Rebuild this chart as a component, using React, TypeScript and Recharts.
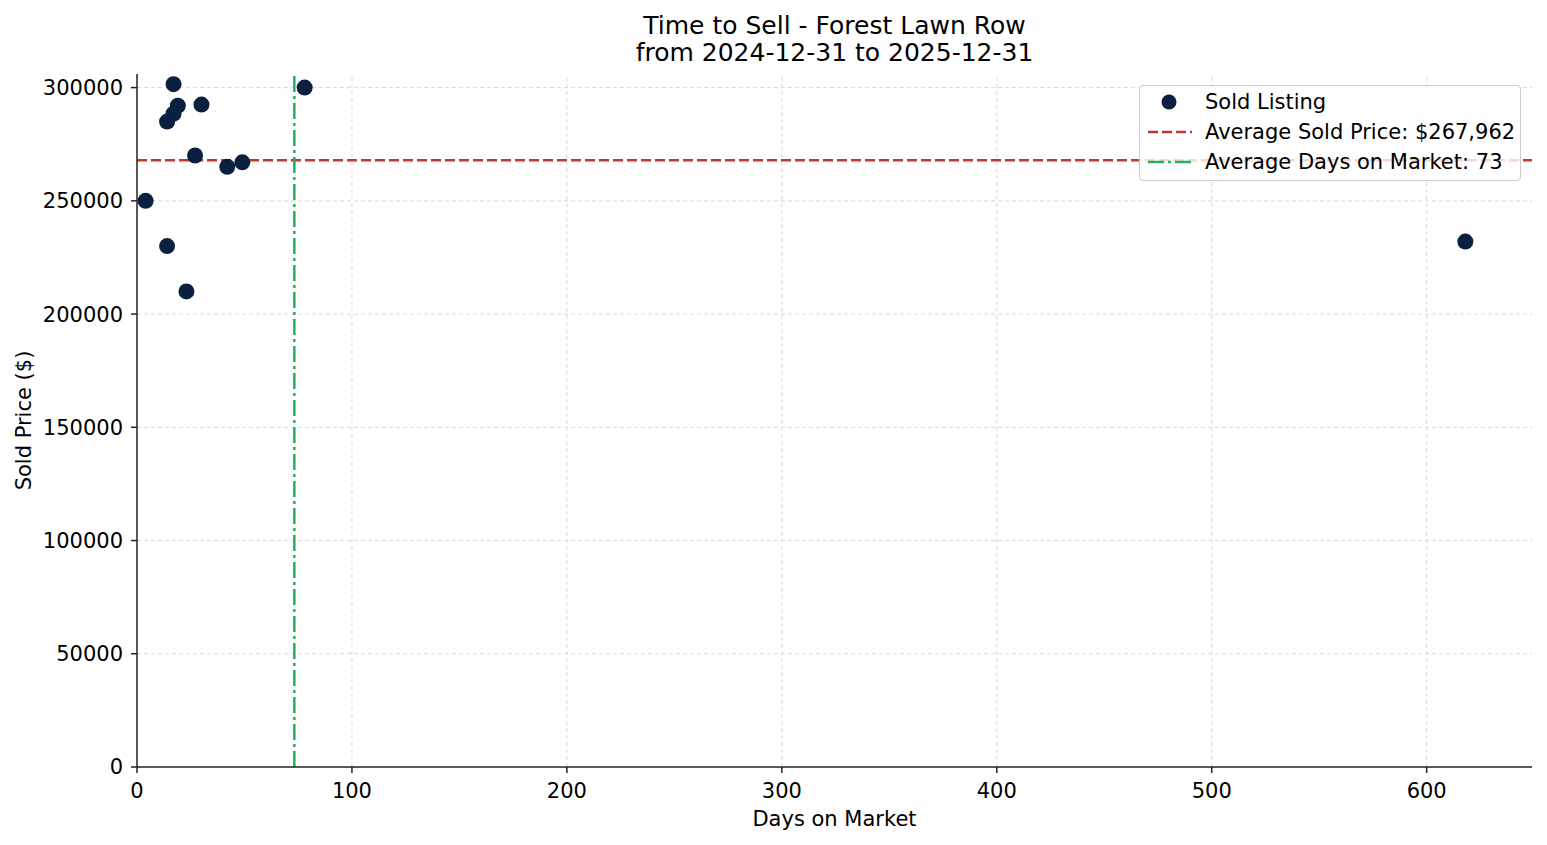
import React from "react";
import {
  ScatterChart, Scatter, XAxis, YAxis, ReferenceLine, Label,
} from "recharts";

// sold listings: days on market and sold price
const daysOnMarket = [4, 17, 19, 17, 14, 30, 27, 42, 49, 14, 23, 78, 618];
const soldPrices = [250000, 301500, 292000, 288500, 285000, 292500, 270000, 265000, 267000, 230000, 210000, 300000, 232000];

const xTicks = [0, 100, 200, 300, 400, 500, 600];
const yTicks = [0, 50000, 100000, 150000, 200000, 250000, 300000];

const AVG_PRICE = 267962;
const AVG_DAYS = 73.2;

const TITLE = "Time to Sell - Forest Lawn Row";
const SUBTITLE = "from 2024-12-31 to 2025-12-31";

const DOT = "#0b1f3f";
const RED = "#c0392b";
const GREEN = "#27ae60";
const GRID = "#d9d9d9";
const FONT = "DejaVu Sans";

const data = daysOnMarket.map((d, i) => ({ days: d, price: soldPrices[i] }));

const tickStyle = { fontSize: 21, fill: "#000", fontFamily: FONT };

export default function App() {
  return (
    <div style={{
      position: "absolute", top: 0, left: 0, width: 1547, height: 845,
      background: "#fff", fontFamily: FONT,
    }}>
      <div style={{
        position: "absolute", top: 12, left: 137, width: 1395, textAlign: "center",
        fontSize: 25, lineHeight: "27px", color: "#000",
      }}>
        <div>{TITLE}</div>
        <div>{SUBTITLE}</div>
      </div>

      <ScatterChart width={1547} height={845} margin={{ top: 74, right: 15, bottom: 0, left: 0 }}>
        {/* grid drawn at the tick values only, like matplotlib */}
        {xTicks.filter((t) => t > 0).map((t) => (
          <ReferenceLine key={`gx${t}`} x={t} stroke={GRID} strokeDasharray="4 3" strokeWidth={1} />
        ))}
        {yTicks.filter((t) => t > 0).map((t) => (
          <ReferenceLine key={`gy${t}`} y={t} stroke={GRID} strokeDasharray="4 3" strokeWidth={1} />
        ))}
        <XAxis
          type="number" dataKey="days" domain={[0, 649]} ticks={xTicks}
          allowDataOverflow height={78}
          tick={tickStyle} tickSize={6} tickMargin={10}
          axisLine={{ stroke: "#222", strokeWidth: 1.5 }} tickLine={{ stroke: "#222", strokeWidth: 1.5 }}
        >
          <Label
            content={({ viewBox }: any) => (
              <text x={viewBox.x + viewBox.width / 2} y={viewBox.y + 52} textAnchor="middle"
                dominantBaseline="central" fontSize={21} fontFamily={FONT} fill="#000">
                Days on Market
              </text>
            )}
          />
        </XAxis>
        <YAxis
          type="number" dataKey="price" domain={[0, 306000]} ticks={yTicks}
          allowDataOverflow width={137}
          tick={tickStyle} tickSize={6} tickMargin={8}
          axisLine={{ stroke: "#222", strokeWidth: 1.5 }} tickLine={{ stroke: "#222", strokeWidth: 1.5 }}
        >
          <Label
            content={({ viewBox }: any) => {
              const cx = viewBox.x + 24;
              const cy = viewBox.y + viewBox.height / 2;
              return (
                <text x={cx} y={cy} textAnchor="middle" dominantBaseline="central"
                  transform={`rotate(-90 ${cx} ${cy})`} fontSize={21} fontFamily={FONT} fill="#000">
                  Sold Price ($)
                </text>
              );
            }}
          />
        </YAxis>
        <Scatter
          data={data} fill={DOT} isAnimationActive={false}
          shape={(p: any) => <circle cx={p.cx} cy={p.cy} r={8} fill={DOT} />}
        />
        <ReferenceLine y={AVG_PRICE} stroke={RED} strokeWidth={2.5} strokeDasharray="10 4" />
        <ReferenceLine x={AVG_DAYS} stroke={GREEN} strokeWidth={2.5} strokeDasharray="16 4 3 4" />
      </ScatterChart>

      <div style={{
        position: "absolute", left: 1139, top: 85, width: 382, height: 96, boxSizing: "border-box",
        border: "1px solid #cccccc", borderRadius: 4, background: "rgba(255,255,255,0.8)",
        fontSize: 21, color: "#000",
      }}>
        {[
          { label: "Sold Listing", kind: "dot" },
          { label: `Average Sold Price: $${AVG_PRICE.toLocaleString("en-US")}`, kind: "dash" },
          { label: `Average Days on Market: ${Math.round(AVG_DAYS)}`, kind: "dashdot" },
        ].map((e, i) => (
          <div key={i} style={{ position: "absolute", left: 0, top: 1 + i * 30, height: 30, display: "flex", alignItems: "center" }}>
            <svg width={60} height={30} style={{ display: "block" }}>
              {e.kind === "dot" && <circle cx={29} cy={15} r={7.5} fill={DOT} />}
              {e.kind === "dash" && <line x1={8} x2={52} y1={15} y2={15} stroke={RED} strokeWidth={2.5} strokeDasharray="10 4" />}
              {e.kind === "dashdot" && <line x1={8} x2={52} y1={15} y2={15} stroke={GREEN} strokeWidth={2.5} strokeDasharray="16 4 3 4" />}
            </svg>
            <span style={{ marginLeft: 5, whiteSpace: "nowrap" }}>{e.label}</span>
          </div>
        ))}
      </div>
    </div>
  );
}
